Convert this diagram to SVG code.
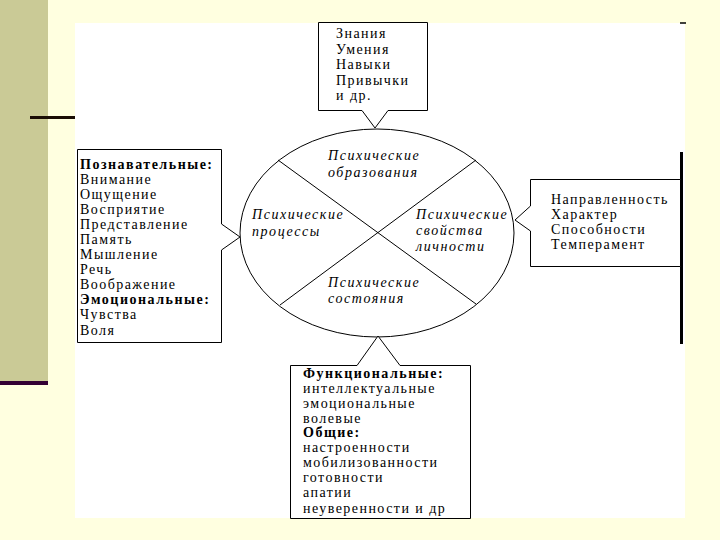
<svg xmlns="http://www.w3.org/2000/svg" width="720" height="540" viewBox="0 0 720 540">
<style>
.box{fill:#fff;stroke:#000;stroke-width:1}
.ln{fill:none;stroke:#000;stroke-width:1}
.t{font-family:"Liberation Serif","Times New Roman","DejaVu Serif",serif;font-size:14px;letter-spacing:1.45px;fill:#000}
.b{font-weight:bold;letter-spacing:1.5px}
.i{font-style:italic;letter-spacing:1.55px}
</style>
<rect x="0" y="0" width="720" height="540" fill="#FFFFE0"/>
<rect x="0" y="0" width="48" height="383" fill="#CACA96"/>
<rect x="0" y="381" width="48" height="4" fill="#330033"/>
<rect x="30" y="116" width="47" height="3" fill="#1A0D05"/>
<rect x="75" y="23" width="610" height="495" fill="#FFFFFF"/>
<line x1="680" y1="23" x2="686" y2="23" stroke="#000" stroke-width="1.5"/>
<line x1="681.5" y1="152" x2="681.5" y2="344" stroke="#000" stroke-width="3"/>

<g id="connectors">
<ellipse cx="377" cy="233" rx="137" ry="104" class="ln"/>
<line x1="278" y1="160" x2="476" y2="304" class="ln"/>
<line x1="476" y1="160" x2="280" y2="305" class="ln"/>
</g>

<g id="node-top">
<path class="box" d="M318.5,22.5 H427.5 V110.5 H388 L375,128 L362,110.5 H318.5 Z"/>
<text class="t" x="336" y="38">Знания</text>
<text class="t" x="336" y="53.5">Умения</text>
<text class="t" x="336" y="69">Навыки</text>
<text class="t" x="336" y="84.5">Привычки</text>
<text class="t" x="336" y="100">и др.</text>
</g>

<g id="node-left">
<path class="box" d="M77.5,149.5 H221.5 V224 L240,237 L221.5,250 V342.5 H77.5 Z"/>
<text class="t b" x="80" y="169">Познавательные:</text>
<text class="t" x="80" y="184">Внимание</text>
<text class="t" x="80" y="199">Ощущение</text>
<text class="t" x="80" y="214">Восприятие</text>
<text class="t" x="80" y="229">Представление</text>
<text class="t" x="80" y="244">Память</text>
<text class="t" x="80" y="259">Мышление</text>
<text class="t" x="80" y="274">Речь</text>
<text class="t" x="80" y="289">Воображение</text>
<text class="t b" x="80" y="304">Эмоциональные:</text>
<text class="t" x="80" y="319">Чувства</text>
<text class="t" x="80" y="335">Воля</text>
</g>

<g id="node-right">
<path class="box" d="M530.5,179.5 H680.5 V266.5 H530.5 V231 L515,220 L530.5,206 Z"/>
<text class="t" x="551" y="204">Направленность</text>
<text class="t" x="551" y="219">Характер</text>
<text class="t" x="551" y="234">Способности</text>
<text class="t" x="551" y="249">Темперамент</text>
</g>

<g id="node-bottom">
<path class="box" d="M290.5,365.5 H357 L378,336 L400,365.5 H470.5 V518.5 H290.5 Z"/>
<text class="t b" x="303" y="378">Функциональные:</text>
<text class="t" x="303" y="393">интеллектуальные</text>
<text class="t" x="303" y="408">эмоциональные</text>
<text class="t" x="303" y="423">волевые</text>
<text class="t b" x="303" y="437">Общие:</text>
<text class="t" x="303" y="452">настроенности</text>
<text class="t" x="303" y="467">мобилизованности</text>
<text class="t" x="303" y="482">готовности</text>
<text class="t" x="303" y="497">апатии</text>
<text class="t" x="303" y="513">неуверенности и др</text>
</g>

<g id="ellipse-labels">
<text class="t i" x="328" y="160">Психические</text>
<text class="t i" x="328" y="177">образования</text>
<text class="t i" x="252" y="219">Психические</text>
<text class="t i" x="252" y="236">процессы</text>
<text class="t i" x="416" y="219">Психические</text>
<text class="t i" x="416" y="235">свойства</text>
<text class="t i" x="416" y="251">личности</text>
<text class="t i" x="328" y="287">Психические</text>
<text class="t i" x="328" y="303">состояния</text>
</g>
</svg>
